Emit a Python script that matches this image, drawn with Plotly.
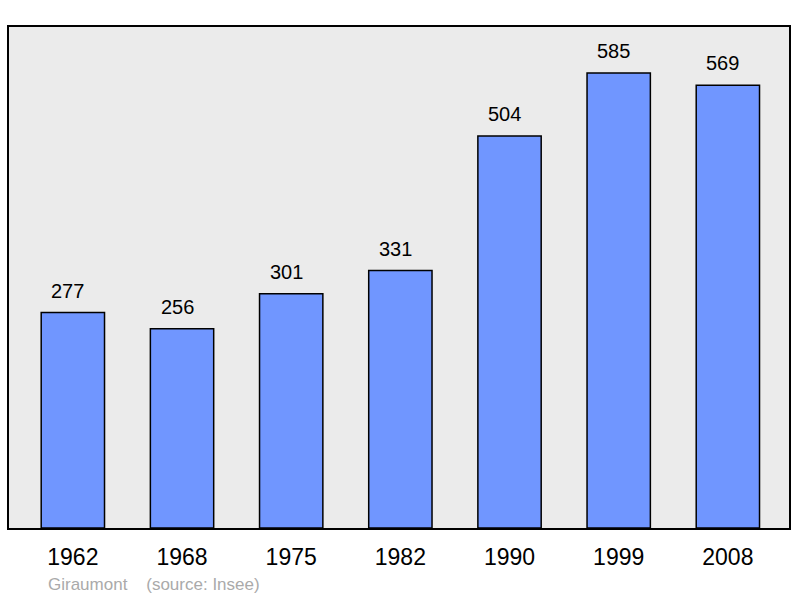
import plotly.graph_objects as go

years = ["1962", "1968", "1975", "1982", "1990", "1999", "2008"]
population = [277, 256, 301, 331, 504, 585, 569]

fig = go.Figure()
fig.add_trace(go.Bar(
    x=list(range(len(years))), y=population,
    width=0.58,
    marker=dict(color="#7096FF", line=dict(color="#000000", width=1.5)),
    hoverinfo="skip",
))
for i, v in enumerate(population):
    fig.add_annotation(x=i, y=v, text=str(v), showarrow=False,
                       yanchor="bottom", yshift=9, xshift=-5,
                       font=dict(family="Liberation Sans", size=20, color="#000000"))

fig.add_annotation(xref="paper", yref="paper", x=(46-9)/782, y=-(584-528)/501,
                   text="Giraumont&nbsp;&nbsp;&nbsp;&nbsp;(source: Insee)", showarrow=False,
                   xanchor="left", yanchor="middle",
                   font=dict(family="Liberation Sans", size=17, color="#AAAAAA"))

fig.update_layout(
    width=800, height=598,
    margin=dict(l=9, r=9, t=27, b=70),
    paper_bgcolor="#FFFFFF", plot_bgcolor="#EBEBEB",
    showlegend=False,
    xaxis=dict(range=[-0.585, 6.56], tickmode="array",
               tickvals=list(range(len(years))), ticktext=years,
               showgrid=False, zeroline=False, ticks="",
               ticklabelstandoff=7,
               showline=True, linecolor="#000000", linewidth=2, mirror=True,
               tickfont=dict(family="Liberation Sans", size=23, color="#000000")),
    yaxis=dict(range=[0, 644], showgrid=False, zeroline=False,
               showticklabels=False, ticks="",
               showline=True, linecolor="#000000", linewidth=2, mirror=True),
)
fig.write_html("out.html", config={"displayModeBar": False},
               post_script="document.body.style.margin='0px';document.body.style.overflow='hidden';")
